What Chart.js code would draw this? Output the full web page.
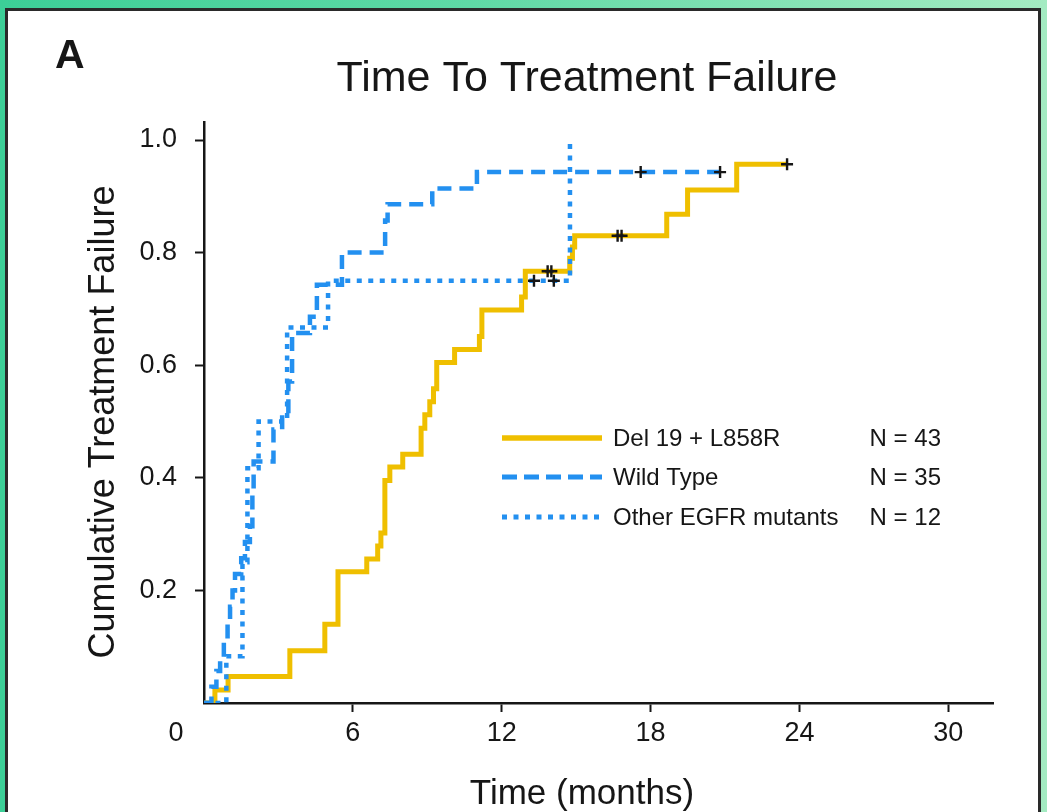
<!DOCTYPE html>
<html>
<head>
<meta charset="utf-8">
<title>Time To Treatment Failure</title>
<script src="https://cdn.jsdelivr.net/npm/chart.js@4/dist/chart.umd.min.js"></script>
<style>
    html, body { margin: 0; padding: 0; }
    body {
        width: 1047px; height: 812px; overflow: hidden; position: relative;
        background: linear-gradient(90deg, #3ccf97 0%, #5fd9a6 45%, #a4ebc2 100%);
    }
    .panel {
        position: absolute; left: 5px; top: 8px; right: 6px; bottom: -10px;
        background: #fff; border: 3px solid #2a2a2a;
    }
    .chart-wrap { position: absolute; left: 0; top: 0; width: 1047px; height: 812px; }
</style>
</head>
<body>
<div class="panel"></div>
<div class="chart-wrap"><canvas id="chart"></canvas></div>
<script>
    // 축 눈금
    const xTicks = [6, 12, 18, 24, 30];
    const yTicks = [0.2, 0.4, 0.6, 0.8, 1.0];

    // Del 19 + L858R (N = 43)
    const delTimes  = [0, 0.44, 0.97, 3.46, 4.87, 5.40, 6.56, 7.0, 7.13, 7.29, 7.49, 8.01, 8.75, 8.9, 9.1, 9.25, 9.38, 10.1, 11.1, 11.2, 12.8, 12.95, 14.74, 14.85, 14.94, 18.65, 19.49, 21.47, 23.5];
    const delValues = [0, 0.023, 0.047, 0.093, 0.140, 0.233, 0.256, 0.279, 0.302, 0.395, 0.419, 0.442, 0.488, 0.512, 0.535, 0.558, 0.605, 0.628, 0.651, 0.698, 0.721, 0.767, 0.79, 0.81, 0.83, 0.868, 0.911, 0.957, 0.957];
    const delCensorTimes  = [13.85, 14.0, 16.67, 16.83, 23.5];
    const delCensorValues = [0.767, 0.767, 0.83, 0.83, 0.957];

    // Wild Type (N = 35)
    const wtTimes  = [0, 0.3, 0.5, 0.65, 0.8, 0.95, 1.05, 1.15, 1.25, 1.5, 1.65, 1.85, 1.95, 2.0, 2.8, 3.15, 3.4, 3.55, 4.27, 4.55, 5.56, 7.3, 7.4, 9.2, 11.0, 20.8];
    const wtValues = [0, 0.029, 0.057, 0.086, 0.114, 0.143, 0.171, 0.2, 0.229, 0.257, 0.286, 0.314, 0.371, 0.429, 0.486, 0.514, 0.571, 0.657, 0.686, 0.743, 0.8, 0.857, 0.886, 0.914, 0.943, 0.943];
    const wtCensorTimes  = [17.6, 20.8];
    const wtCensorValues = [0.943, 0.943];

    // Other EGFR mutants (N = 12)
    const otherTimes  = [0, 0.9, 1.55, 1.75, 2.2, 3.35, 5.0, 14.75];
    const otherValues = [0, 0.083, 0.25, 0.417, 0.5, 0.667, 0.75, 1.0];
    const otherCensorTimes  = [13.3, 14.1];
    const otherCensorValues = [0.75, 0.75];

    const legendLabels = ['Del 19 + L858R', 'Wild Type', 'Other EGFR mutants'];
    const legendCounts = ['N = 43', 'N = 35', 'N = 12'];

    const FONT = "'Liberation Sans', Arial, Helvetica, sans-serif";
    const YELLOW = '#efbf00';
    const BLUE = '#2390f0';
    const INK = '#161616';

    const toPts = (xs, ys) => xs.map((x, i) => ({ x: x, y: ys[i] }));

    function curve(label, xs, ys, color, dash, width, order) {
        return {
            type: 'line', label: label, data: toPts(xs, ys),
            borderColor: color, backgroundColor: 'transparent',
            borderWidth: width, borderDash: dash, borderCapStyle: 'butt',
            stepped: true, pointRadius: 0, fill: false, order: order,
        };
    }

    function censor(xs, ys) {
        return {
            type: 'scatter', data: toPts(xs, ys), showLine: false,
            pointStyle: 'cross', pointRadius: 6, pointBorderWidth: 2.4,
            borderColor: INK, backgroundColor: INK, order: 0,
        };
    }

    const datasets = [
        censor(delCensorTimes, delCensorValues),
        censor(wtCensorTimes, wtCensorValues),
        censor(otherCensorTimes, otherCensorValues),
        curve(legendLabels[0], delTimes, delValues, YELLOW, [], 5, 3),
        curve(legendLabels[1], wtTimes, wtValues, BLUE, [14, 8], 4.5, 2),
        curve(legendLabels[2], otherTimes, otherValues, BLUE, [5, 6.5], 4.5, 1),
    ];

    // 제목, 패널 라벨, 축 제목, 원점 "0", 범례
    const decorPlugin = {
        id: 'decor',
        afterDraw(chart) {
            const ctx = chart.ctx;
            const xs = chart.scales.x, ys = chart.scales.y;
            ctx.save();
            ctx.fillStyle = INK;
            ctx.textBaseline = 'alphabetic';

            ctx.font = 'bold 41px ' + FONT;
            ctx.textAlign = 'left';
            ctx.fillText('A', 55, 68);

            ctx.font = '43px ' + FONT;
            ctx.textAlign = 'center';
            ctx.fillText('Time To Treatment Failure', 587, 91);

            ctx.font = '27px ' + FONT;
            ctx.textBaseline = 'middle';
            ctx.fillText('0', xs.getPixelForValue(0) - 28, ys.getPixelForValue(0) + 31);

            ctx.font = '35px ' + FONT;
            ctx.fillText('Time (months)', 582, 794);

            ctx.save();
            ctx.translate(104, 422);
            ctx.rotate(-Math.PI / 2);
            ctx.font = '36px ' + FONT;
            ctx.fillText('Cumulative Treatment Failure', 0, 0);
            ctx.restore();

            const lineX0 = 502, lineX1 = 602, rowY = [438, 477, 517];
            const curves = datasets.filter(d => d.type === 'line');
            ctx.font = '24px ' + FONT;
            curves.forEach((d, i) => {
                ctx.beginPath();
                ctx.strokeStyle = d.borderColor;
                ctx.lineWidth = d.borderWidth + 0.5;
                ctx.lineCap = 'butt';
                ctx.setLineDash(i === 1 ? [15, 7] : d.borderDash);
                ctx.moveTo(lineX0, rowY[i]);
                ctx.lineTo(lineX1, rowY[i]);
                ctx.stroke();
                ctx.setLineDash([]);
                ctx.textAlign = 'left';
                ctx.fillText(d.label, 613, rowY[i] + 1);
                ctx.textAlign = 'right';
                ctx.fillText(legendCounts[i], 941, rowY[i] + 1);
            });
            ctx.restore();
        }
    };

    new Chart(document.getElementById('chart'), {
        data: { datasets },
        options: {
            responsive: true,
            maintainAspectRatio: false,
            animation: false,
            layout: { padding: { left: 0, right: 54, top: 122, bottom: 0 } },
            plugins: { legend: { display: false }, tooltip: { enabled: false }, title: { display: false } },
            scales: {
                x: {
                    type: 'linear', min: 0, max: 31.8,
                    afterBuildTicks: s => { s.ticks = xTicks.map(v => ({ value: v })); },
                    afterFit: s => { s.height = 109; },
                    grid: { drawOnChartArea: false, drawTicks: true, tickLength: 9, tickWidth: 2, tickColor: INK },
                    border: { display: true, color: INK, width: 2.5 },
                    ticks: { color: INK, padding: 5, maxRotation: 0, font: { family: FONT, size: 27 } },
                    title: { display: false },
                },
                y: {
                    type: 'linear', min: 0, max: 1.032,
                    afterBuildTicks: s => { s.ticks = yTicks.map(v => ({ value: v })); },
                    afterFit: s => { s.width = 204; },
                    grid: { drawOnChartArea: false, drawTicks: true, tickLength: 9, tickWidth: 2, tickColor: INK },
                    border: { display: true, color: INK, width: 2.5 },
                    ticks: { color: INK, padding: 18, font: { family: FONT, size: 27 },
                             callback: v => v.toFixed(1) },
                    title: { display: false },
                },
            },
        },
        plugins: [decorPlugin],
    });
</script>
</body>
</html>
